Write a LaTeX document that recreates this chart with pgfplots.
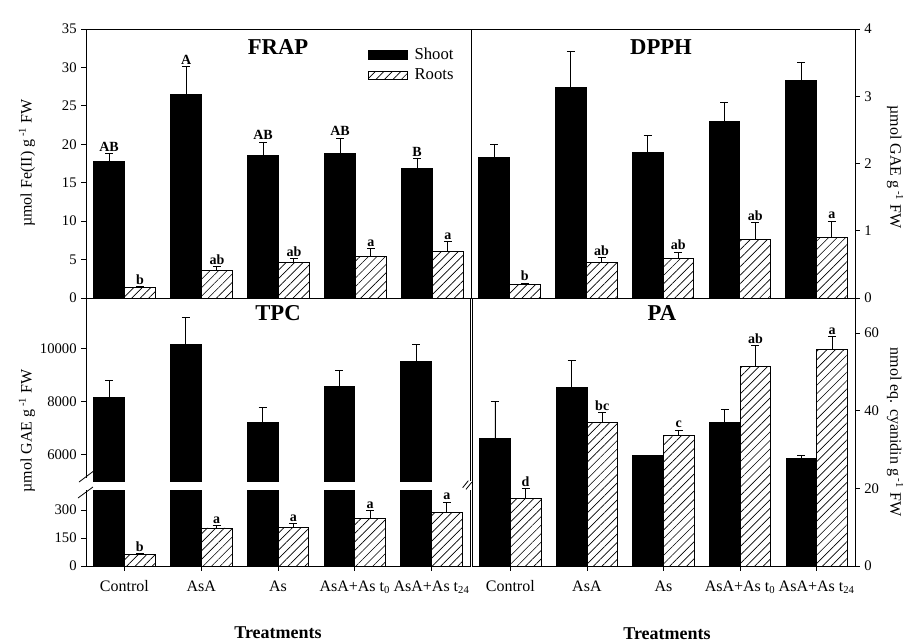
\documentclass[border=0pt]{standalone}
\usepackage{fontspec}
\setmainfont{Liberation Serif}
\usepackage{pgfplots}
\pgfplotsset{compat=1.18}
\usepackage{pgfplotstable}
\usetikzlibrary{patterns.meta}

\pgfplotstableread{
x y e
0.3 17.8 1.0
1.3 26.5 3.6
2.3 18.6 1.7
3.3 18.8 2.0
4.3 16.8 1.3
}\frapS
\pgfplotstableread{
x y e
0.7 1.4 0.1
1.7 3.6 0.5
2.7 4.6 0.55
3.7 5.4 1.0
4.7 6.1 1.2
}\frapR
\pgfplotstableread{
x y e
0.3 2.09 0.19
1.3 3.13 0.53
2.3 2.17 0.24
3.3 2.62 0.29
4.3 3.23 0.27
}\dpphS
\pgfplotstableread{
x y e
0.7 0.20 0.02
1.7 0.53 0.07
2.7 0.59 0.09
3.7 0.87 0.25
4.7 0.90 0.24
}\dpphR
\pgfplotstableread{
x y e
0.3 8163 629
1.3 10151 1019
2.3 7195 578
3.3 8553 617
4.3 9522 629
}\tpcS
\pgfplotstableread{
x y e
0.7 61 5
1.7 204 12
2.7 205 22
3.7 254 41
4.7 288 53
}\tpcR
\pgfplotstableread{
x y e
0.3 32.9 9.4
1.3 46.0 7.0
2.3 28.4 0
3.3 36.9 3.3
4.3 27.7 0.7
}\paS
\pgfplotstableread{
x y e
0.7 17.3 2.6
1.7 36.9 2.6
2.7 33.6 1.4
3.7 51.3 5.4
4.7 55.7 3.4
}\paR

\pgfplotsset{
  panel/.style={
    scale only axis,
    anchor=south west,
    xmin=0, xmax=5,
    axis line style={line width=0.7pt},
    tick style={line width=0.6pt, black},
    major tick length=3.5pt,
    tick align=outside,
    axis on top,
    clip mode=individual,
    scaled y ticks=false,
    /pgf/number format/assume math mode=true,
    /pgf/number format/1000 sep={},
    yticklabel style={font=\fontsize{11}{13}\selectfont},
    xticklabel style={font=\fontsize{12}{14}\selectfont, yshift=-4pt},
  },
  cats/.style={
    xtick={0.5,1.5,2.5,3.5,4.5},
    xticklabels={Control, AsA, As, AsA+As t\textsubscript{0}, AsA+As t\textsubscript{24}},
    xtick pos=left,
  },
  shoot/.style={ybar, bar width=0.4, bar shift=0pt, fill=black, draw=black, line width=0.6pt,
    error bars/y dir=plus, error bars/y explicit,
    error bars/error mark=-,
    error bars/error bar style={black, line width=0.7pt},
    error bars/error mark options={rotate=90, black, line width=0.7pt, mark size=3pt}},
  roots/.style={ybar, bar width=0.4, bar shift=0pt, draw=black, line width=0.6pt,
    pattern={Lines[angle=45,distance=4.5pt,line width=0.5pt]},
    error bars/y dir=plus, error bars/y explicit,
    error bars/error mark=-,
    error bars/error bar style={black, line width=0.7pt},
    error bars/error mark options={rotate=90, black, line width=0.7pt, mark size=3pt}},
}
\tikzset{
  lab/.style={anchor=south, inner sep=1.5pt, font=\bfseries\fontsize{10.5}{12}\selectfont},
  ttl/.style={font=\bfseries\fontsize{17}{19}\selectfont},
  ylab/.style={font=\fontsize{12}{14}\selectfont},
}

\begin{document}
\begin{tikzpicture}
\path[use as bounding box] (0,0) rectangle (683.25pt,-481.5pt);

% FRAP
\begin{axis}[panel, at={(64.5pt,-223.5pt)}, width=288.75pt, height=201.75pt,
  ymin=0, ymax=35, ytick={0,5,...,35}, ytick pos=left, xtick=\empty,
  legend style={draw=none, fill=none, at={(0.733,0.94)}, anchor=north west,
    font=\fontsize{12.5}{14}\selectfont, inner sep=0pt, row sep=1.5pt},
  legend image code/.code={\draw[#1] (0pt,-3.3pt) rectangle (29pt,3.3pt); \path (32pt,0pt);}]
\addplot[shoot] table[x=x, y=y, y error=e] {\frapS};
\addlegendentry{Shoot}
\addplot[roots] table[x=x, y=y, y error=e] {\frapR};
\addlegendentry{Roots}
\node[lab] at (axis cs:0.3,18.8) {AB};
\node[lab] at (axis cs:1.3,30.1) {A};
\node[lab] at (axis cs:2.3,20.3) {AB};
\node[lab] at (axis cs:3.3,20.8) {AB};
\node[lab] at (axis cs:4.3,18.1) {B};
\node[lab] at (axis cs:0.7,1.5) {b};
\node[lab] at (axis cs:1.7,4.1) {ab};
\node[lab] at (axis cs:2.7,5.15) {ab};
\node[lab] at (axis cs:3.7,6.4) {a};
\node[lab] at (axis cs:4.7,7.3) {a};
\end{axis}

% DPPH
\begin{axis}[panel, at={(353.25pt,-223.5pt)}, width=288pt, height=201.75pt,
  ymin=0, ymax=4, ytick={0,1,2,3,4}, ytick pos=right, yticklabel pos=right, xtick=\empty]
\addplot[shoot] table[x=x, y=y, y error=e] {\dpphS};
\addplot[roots] table[x=x, y=y, y error=e] {\dpphR};
\node[lab] at (axis cs:0.7,0.22) {b};
\node[lab] at (axis cs:1.7,0.60) {ab};
\node[lab] at (axis cs:2.7,0.68) {ab};
\node[lab] at (axis cs:3.7,1.12) {ab};
\node[lab] at (axis cs:4.7,1.14) {a};
\end{axis}

% TPC upper
\begin{axis}[panel, at={(64.5pt,-360.75pt)}, width=288pt, height=137.25pt,
  ymin=5000, ymax=11900, ytick={6000,8000,10000}, ytick pos=left, xtick=\empty,
  axis line style={draw=none}]
\addplot[shoot] table[x=x, y=y, y error=e] {\tpcS};
\end{axis}

% TPC lower
\begin{axis}[panel, cats, at={(64.5pt,-424.5pt)}, width=288pt, height=57pt,
  ymin=0, ymax=407, ytick={0,150,300}, ytick pos=left,
  axis line style={draw=none}]
\addplot[ybar, bar width=0.4, bar shift=0pt, fill=black, draw=black, line width=0.6pt] table[x=x, y=y] {\tpcS};
\addplot[roots] table[x=x, y=y, y error=e] {\tpcR};
\node[lab] at (axis cs:0.7,66) {b};
\node[lab] at (axis cs:1.7,216) {a};
\node[lab] at (axis cs:2.7,227) {a};
\node[lab] at (axis cs:3.7,295) {a};
\node[lab] at (axis cs:4.7,341) {a};
\end{axis}

% TPC frame with break
\draw[line width=0.7pt] (64.5pt,-358.5pt) -- (64.5pt,-223.5pt) -- (352.5pt,-223.5pt) -- (352.5pt,-360.75pt);
\draw[line width=0.7pt] (64.5pt,-367.5pt) -- (64.5pt,-424.5pt) -- (352.5pt,-424.5pt) -- (352.5pt,-367.5pt);
\draw[line width=0.6pt] (59.25pt,-361.5pt) -- (71.25pt,-352.5pt);
\draw[line width=0.6pt] (58.5pt,-373.5pt) -- (69.75pt,-365.25pt);
\draw[line width=0.6pt] (347pt,-365.75pt) -- (351.25pt,-360.5pt);
\draw[line width=0.6pt] (349.5pt,-367pt) -- (353.75pt,-361.75pt);

% PA
\begin{axis}[panel, cats, at={(354pt,-424.5pt)}, width=287.25pt, height=201pt,
  ymin=0, ymax=69, ytick={0,20,40,60}, ytick pos=right, yticklabel pos=right]
\addplot[shoot] table[x=x, y=y, y error=e] {\paS};
\addplot[roots] table[x=x, y=y, y error=e] {\paR};
\node[lab] at (axis cs:0.7,19.9) {d};
\node[lab] at (axis cs:1.7,39.5) {bc};
\node[lab] at (axis cs:2.7,35.0) {c};
\node[lab] at (axis cs:3.7,56.7) {ab};
\node[lab] at (axis cs:4.7,59.1) {a};
\end{axis}

% titles
\node[ttl] at (208.5pt,-35.6pt) {FRAP};
\node[ttl] at (495.75pt,-35.6pt) {DPPH};
\node[ttl] at (208.5pt,-235.1pt) {TPC};
\node[ttl] at (496.5pt,-235.1pt) {PA};

% y labels
\node[ylab, rotate=90] at (20.25pt,-122.25pt) {µmol Fe(II) g\,\textsuperscript{-1} FW};
\node[ylab, rotate=90] at (20.25pt,-323.25pt) {µmol GAE g\,\textsuperscript{-1} FW};
\node[ylab, rotate=-90] at (671.25pt,-125.25pt) {µmol GAE g\,\textsuperscript{-1} FW};
\node[ylab, rotate=-90] at (671.25pt,-324pt) {nmol eq. cyanidin g\,\textsuperscript{-1} FW};

% x labels
\node[font=\bfseries\fontsize{13.5}{15}\selectfont] at (208.5pt,-474.4pt) {Treatments};
\node[font=\bfseries\fontsize{13.5}{15}\selectfont] at (500.25pt,-475.5pt) {Treatments};
\end{tikzpicture}
\end{document}
